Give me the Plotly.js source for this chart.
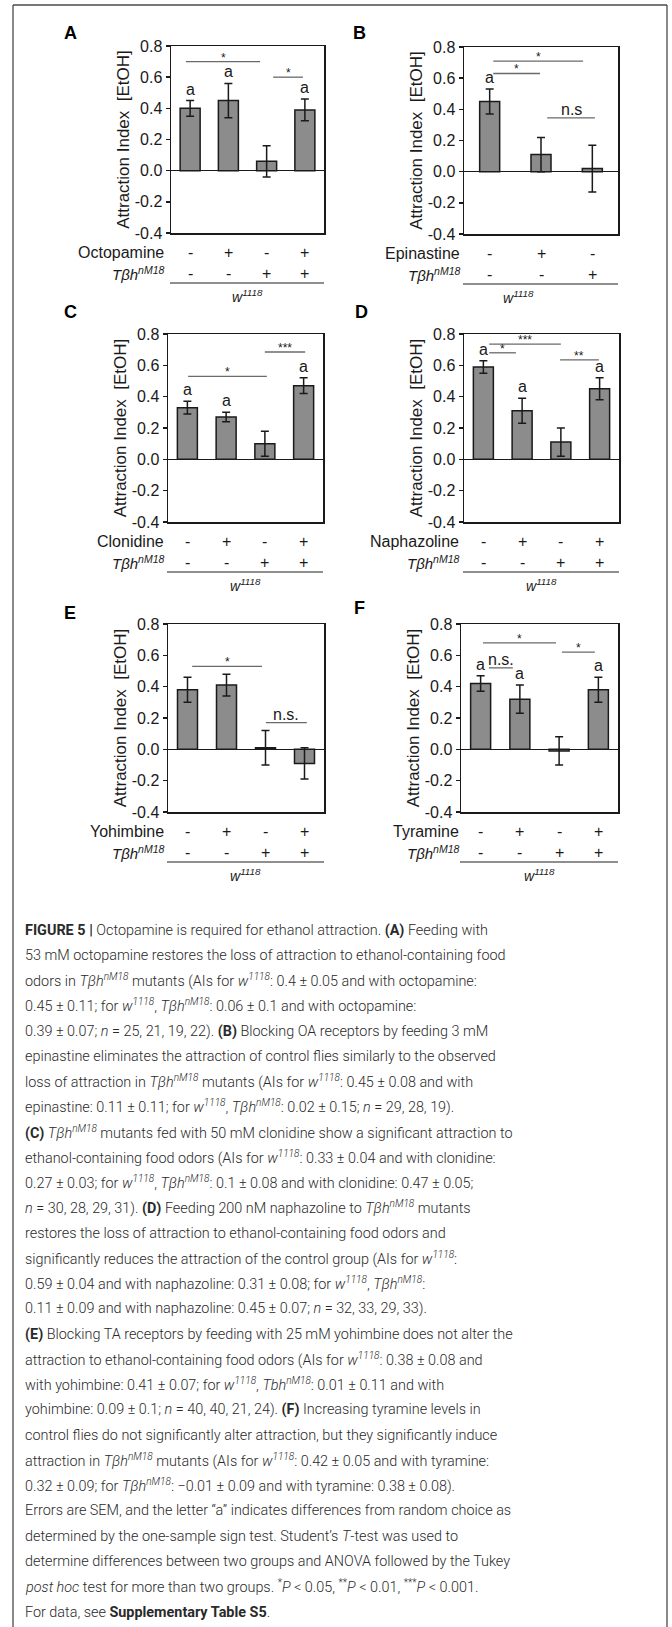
<!DOCTYPE html>
<html>
<head>
<meta charset="utf-8">
<script src="https://cdn.plot.ly/plotly-3.0.1.min.js"></script>
<style>html,body{margin:0;padding:0;background:#fff}</style>
</head>
<body>
<div id="fig" style="width:672px;height:1627px"></div>
<script>
// ---------- values (attraction index, mean ± SEM) ----------
const meanA = [0.40, 0.45, 0.06, 0.39];
const semA  = [0.05, 0.11, 0.10, 0.07];
const drugA = ['-', '+', '-', '+'];
const tbhA  = ['-', '-', '+', '+'];
const signA = ['a', 'a', '', 'a'];

const meanB = [0.45, 0.11, 0.02];
const semB  = [0.08, 0.11, 0.15];
const drugB = ['-', '+', '-'];
const tbhB  = ['-', '-', '+'];
const signB = ['a', '', ''];

const meanC = [0.33, 0.27, 0.10, 0.47];
const semC  = [0.04, 0.03, 0.08, 0.05];
const drugC = ['-', '+', '-', '+'];
const tbhC  = ['-', '-', '+', '+'];
const signC = ['a', 'a', '', 'a'];

const meanD = [0.59, 0.31, 0.11, 0.45];
const semD  = [0.04, 0.08, 0.09, 0.07];
const drugD = ['-', '+', '-', '+'];
const tbhD  = ['-', '-', '+', '+'];
const signD = ['a', 'a', '', 'a'];

const meanE = [0.38, 0.41, 0.01, -0.09];
const semE  = [0.08, 0.07, 0.11, 0.10];
const drugE = ['-', '+', '-', '+'];
const tbhE  = ['-', '-', '+', '+'];
const signE = ['', '', '', ''];

const meanF = [0.42, 0.32, -0.01, 0.38];
const semF  = [0.05, 0.09, 0.09, 0.08];
const drugF = ['-', '+', '-', '+'];
const tbhF  = ['-', '-', '+', '+'];
const signF = ['a', 'a', '', 'a'];

const drugNames = ['Octopamine', 'Epinastine', 'Clonidine', 'Naphazoline', 'Yohimbine', 'Tyramine'];
const panelLetters = ['A', 'B', 'C', 'D', 'E', 'F'];
const yTickVals = [-0.4, -0.2, 0, 0.2, 0.4, 0.6, 0.8];
const yTickText = ['-0.4', '-0.2', '0.0', '0.2', '0.4', '0.6', '0.8'];

// significance brackets: [from, to, height, label] in category / index units
const bracketsA = [[-0.11, 1.83, 0.70, '*'], [2.17, 2.95, 0.60, '*']];
const bracketsB = [[0.07, 1.82, 0.71, '*'], [0.07, 0.98, 0.63, '*'], [1.12, 2.05, 0.345, 'n.s']];
const bracketsC = [[0.02, 2.05, 0.53, '*'], [2.0, 3.04, 0.685, '***']];
const bracketsD = [[0.15, 0.84, 0.68, '*'], [0.15, 2.0, 0.735, '***'], [1.98, 2.98, 0.635, '**']];
const bracketsE = [[0.12, 1.91, 0.53, '*'], [2.01, 3.06, 0.17, 'n.s.']];
const bracketsF = [[0.06, 1.92, 0.68, '*'], [2.07, 2.91, 0.62, '*'], [0.21, 0.82, 0.52, 'n.s.']];

// ---------- page geometry (pixels) ----------
const W = 672, H = 1627;
const FONT = 'Liberation Sans, Arial, sans-serif';
const CAPFONT = 'Roboto, Liberation Sans, sans-serif';
const INK = '#1a1a1a';
const px = v => v / W;
const py = v => 1 - v / H;

const panels = [
  {mean: meanA, sem: semA, drug: drugA, tbh: tbhA, sign: signA, br: bracketsA,
   box: {l: 171, r: 324, t: 46, b: 233}, lab: [70, 33], rowX: 166, wShift: 0},
  {mean: meanB, sem: semB, drug: drugB, tbh: tbhB, sign: signB, br: bracketsB,
   box: {l: 464, r: 618, t: 47, b: 234}, lab: [359, 33], rowX: 462, wShift: -23},
  {mean: meanC, sem: semC, drug: drugC, tbh: tbhC, sign: signC, br: bracketsC,
   box: {l: 168, r: 323, t: 334, b: 522}, lab: [70, 312], rowX: 166, wShift: 0},
  {mean: meanD, sem: semD, drug: drugD, tbh: tbhD, sign: signD, br: bracketsD,
   box: {l: 464, r: 619, t: 334, b: 522}, lab: [361, 312], rowX: 461, wShift: 0},
  {mean: meanE, sem: semE, drug: drugE, tbh: tbhE, sign: signE, br: bracketsE,
   box: {l: 168, r: 324, t: 624, b: 812}, lab: [70, 613], rowX: 166, wShift: 0},
  {mean: meanF, sem: semF, drug: drugF, tbh: tbhF, sign: signF, br: bracketsF,
   box: {l: 461, r: 618, t: 624, b: 812}, lab: [359, 608], rowX: 461, wShift: 0}
];

const captionLines = [
  '<b>FIGURE 5 |</b> Octopamine is required for ethanol attraction. <b>(A)</b> Feeding with',
  '53 mM octopamine restores the loss of attraction to ethanol-containing food',
  'odors in <i>Tβh<sup>nM18</sup></i> mutants (AIs for <i>w<sup>1118</sup></i>: 0.4 ± 0.05 and with octopamine:',
  '0.45 ± 0.11; for <i>w<sup>1118</sup></i>, <i>Tβh<sup>nM18</sup></i>: 0.06 ± 0.1 and with octopamine:',
  '0.39 ± 0.07; <i>n</i> = 25, 21, 19, 22). <b>(B)</b> Blocking OA receptors by feeding 3 mM',
  'epinastine eliminates the attraction of control flies similarly to the observed',
  'loss of attraction in <i>Tβh<sup>nM18</sup></i> mutants (AIs for <i>w<sup>1118</sup></i>: 0.45 ± 0.08 and with',
  'epinastine: 0.11 ± 0.11; for <i>w<sup>1118</sup></i>, <i>Tβh<sup>nM18</sup></i>: 0.02 ± 0.15; <i>n</i> = 29, 28, 19).',
  '<b>(C)</b> <i>Tβh<sup>nM18</sup></i> mutants fed with 50 mM clonidine show a significant attraction to',
  'ethanol-containing food odors (AIs for <i>w<sup>1118</sup></i>: 0.33 ± 0.04 and with clonidine:',
  '0.27 ± 0.03; for <i>w<sup>1118</sup></i>, <i>Tβh<sup>nM18</sup></i>: 0.1 ± 0.08 and with clonidine: 0.47 ± 0.05;',
  '<i>n</i> = 30, 28, 29, 31). <b>(D)</b> Feeding 200 nM naphazoline to <i>Tβh<sup>nM18</sup></i> mutants',
  'restores the loss of attraction to ethanol-containing food odors and',
  'significantly reduces the attraction of the control group (AIs for <i>w<sup>1118</sup></i>:',
  '0.59 ± 0.04 and with naphazoline: 0.31 ± 0.08; for <i>w<sup>1118</sup></i>, <i>Tβh<sup>nM18</sup></i>:',
  '0.11 ± 0.09 and with naphazoline: 0.45 ± 0.07; <i>n</i> = 32, 33, 29, 33).',
  '<b>(E)</b> Blocking TA receptors by feeding with 25 mM yohimbine does not alter the',
  'attraction to ethanol-containing food odors (AIs for <i>w<sup>1118</sup></i>: 0.38 ± 0.08 and',
  'with yohimbine: 0.41 ± 0.07; for <i>w<sup>1118</sup></i>, <i>Tbh<sup>nM18</sup></i>: 0.01 ± 0.11 and with',
  'yohimbine: 0.09 ± 0.1; <i>n</i> = 40, 40, 21, 24). <b>(F)</b> Increasing tyramine levels in',
  'control flies do not significantly alter attraction, but they significantly induce',
  'attraction in <i>Tβh<sup>nM18</sup></i> mutants (AIs for <i>w<sup>1118</sup></i>: 0.42 ± 0.05 and with tyramine:',
  '0.32 ± 0.09; for <i>Tβh<sup>nM18</sup></i>: −0.01 ± 0.09 and with tyramine: 0.38 ± 0.08).',
  'Errors are SEM, and the letter “a” indicates differences from random choice as',
  'determined by the one-sample sign test. Student’s <i>T</i>-test was used to',
  'determine differences between two groups and ANOVA followed by the Tukey',
  '<i>post hoc</i> test for more than two groups. <sup>*</sup><i>P</i> &lt; 0.05, <sup>**</sup><i>P</i> &lt; 0.01, <sup>***</sup><i>P</i> &lt; 0.001.',
  'For data, see <b>Supplementary Table S5</b>.'
];

// ---------- build figure ----------
const traces = [];
const layout = {
  width: W, height: H,
  margin: {l: 0, r: 0, t: 0, b: 0},
  paper_bgcolor: '#ffffff', plot_bgcolor: '#ffffff',
  showlegend: false,
  font: {family: FONT, color: INK, size: 16},
  annotations: [], shapes: []
};

panels.forEach((p, i) => {
  const n = p.mean.length;
  const sfx = i === 0 ? '' : String(i + 1);
  const xa = 'x' + sfx, ya = 'y' + sfx;
  const catPx = (p.box.r - p.box.l) / n;

  traces.push({
    type: 'bar', xaxis: xa, yaxis: ya,
    x: p.mean.map((_, k) => k), y: p.mean,
    width: 20 / catPx,
    marker: {color: '#8c8c8c', line: {color: INK, width: 1.5}},
    error_y: {type: 'data', array: p.sem, visible: true, color: INK, thickness: 1.5, width: 4},
    hoverinfo: 'skip'
  });

  layout['xaxis' + sfx] = {
    domain: [px(p.box.l), px(p.box.r)], anchor: ya,
    range: [-0.5, n - 0.5], showgrid: false, zeroline: false,
    showline: true, mirror: true, linecolor: INK, linewidth: 1.5,
    ticks: '', showticklabels: false, fixedrange: true
  };
  layout['yaxis' + sfx] = {
    domain: [py(p.box.b), py(p.box.t)], anchor: xa,
    range: [-0.4, 0.8], tickvals: yTickVals, ticktext: yTickText,
    ticks: 'outside', ticklen: 4, tickwidth: 1.5, tickcolor: INK,
    tickfont: {family: FONT, size: 16, color: INK},
    showgrid: false, zeroline: true, zerolinecolor: INK, zerolinewidth: 1.5,
    showline: true, mirror: true, linecolor: INK, linewidth: 1.5,
    title: {text: 'Attraction Index  [EtOH]', font: {family: FONT, size: 17, color: INK}, standoff: 1},
    fixedrange: true
  };

  // panel letter
  layout.annotations.push({
    xref: 'paper', yref: 'paper', x: px(p.lab[0]), y: py(p.lab[1]),
    xanchor: 'center', yanchor: 'middle', showarrow: false,
    text: '<b>' + panelLetters[i] + '</b>', font: {family: FONT, size: 18, color: '#000'}
  });

  // "a" marks above error bars
  p.sign.forEach((s, k) => {
    if (!s) return;
    layout.annotations.push({
      xref: xa, yref: ya, x: k, y: p.mean[k] + p.sem[k],
      xanchor: 'center', yanchor: 'bottom', yshift: 1, showarrow: false,
      text: s, font: {family: FONT, size: 16, color: INK}
    });
  });

  // significance brackets
  p.br.forEach(b => {
    layout.shapes.push({
      type: 'line', xref: xa, yref: ya, x0: b[0], x1: b[1], y0: b[2], y1: b[2],
      line: {color: '#6a6a6a', width: 1.3}
    });
    const isStar = b[3].indexOf('*') === 0;
    layout.annotations.push({
      xref: xa, yref: ya, x: (b[0] + b[1]) / 2, y: b[2],
      xanchor: 'center', yanchor: 'bottom', yshift: isStar ? -5 : -2, showarrow: false,
      text: b[3], font: {family: FONT, size: isStar ? 12 : 16, color: INK}
    });
  });

  // treatment rows under the axis
  const row1 = p.box.b + 19.5, row2 = p.box.b + 40.5, lineY = p.box.b + 50, wY = p.box.b + 63;
  layout.annotations.push({
    xref: 'paper', yref: 'paper', x: px(p.rowX), y: py(row1),
    xanchor: 'right', yanchor: 'middle', showarrow: false,
    text: drugNames[i], font: {family: FONT, size: 16, color: INK}
  });
  layout.annotations.push({
    xref: 'paper', yref: 'paper', x: px(p.rowX + 1), y: py(row2),
    xanchor: 'right', yanchor: 'middle', showarrow: false,
    text: '<i>Tβh<sup>nM18</sup></i>', font: {family: FONT, size: 15, color: INK}
  });
  p.drug.forEach((s, k) => {
    layout.annotations.push({
      xref: xa, yref: 'paper', x: k, y: py(row1), xanchor: 'center', yanchor: 'middle',
      showarrow: false, text: s, font: {family: FONT, size: 16, color: INK}
    });
  });
  p.tbh.forEach((s, k) => {
    layout.annotations.push({
      xref: xa, yref: 'paper', x: k, y: py(row2), xanchor: 'center', yanchor: 'middle',
      showarrow: false, text: s, font: {family: FONT, size: 16, color: INK}
    });
  });
  layout.shapes.push({
    type: 'line', xref: 'paper', yref: 'paper',
    x0: px(p.box.l - 1), x1: px(p.box.r), y0: py(lineY), y1: py(lineY),
    line: {color: '#6a6a6a', width: 1.5}
  });
  layout.annotations.push({
    xref: 'paper', yref: 'paper', x: px((p.box.l + p.box.r) / 2 + p.wShift), y: py(wY),
    xanchor: 'center', yanchor: 'middle', showarrow: false,
    text: '<i>w<sup>1118</sup></i>', font: {family: FONT, size: 14, color: INK}
  });
});

// outer frame (open at the bottom)
[[13, 5, 667, 5], [13, 5, 13, H], [667, 5, 667, H]].forEach(s => {
  layout.shapes.push({
    type: 'line', xref: 'paper', yref: 'paper',
    x0: px(s[0]), y0: py(s[1]), x1: px(s[2]), y1: py(s[3]),
    line: {color: '#4a4a4a', width: 1.3}
  });
});

// figure legend text
captionLines.forEach((t, k) => {
  layout.annotations.push({
    xref: 'paper', yref: 'paper', x: px(23), y: py(930 + k * 25.26),
    xanchor: 'left', yanchor: 'middle', showarrow: false, align: 'left',
    text: t, font: {family: CAPFONT, size: 14.4, color: '#2a2a2a', weight: 300}
  });
});

Plotly.newPlot('fig', traces, layout, {staticPlot: true, displayModeBar: false});
</script>
</body>
</html>
